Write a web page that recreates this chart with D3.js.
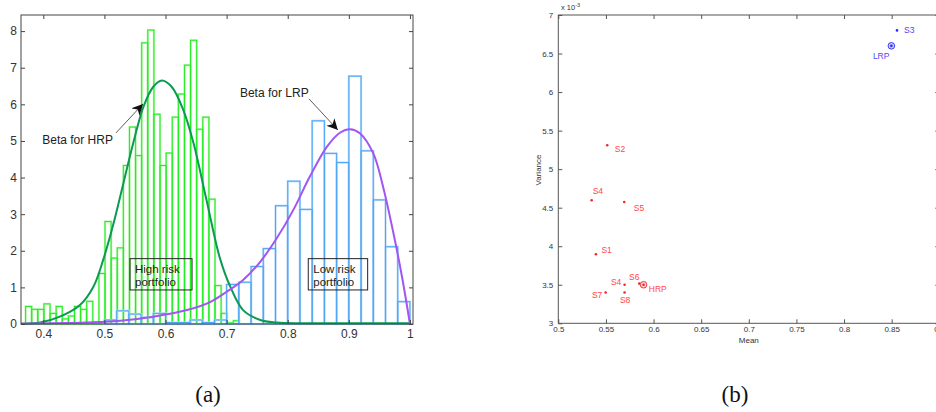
<!DOCTYPE html>
<html>
<head>
<meta charset="utf-8">
<script src="https://cdn.jsdelivr.net/npm/d3@7"></script>
<style>
  body { margin: 0; background: #fff; }
  svg { display: block; font-family: "Liberation Sans", Arial, sans-serif; }
</style>
</head>
<body>
<svg id="chart" width="936" height="412"></svg>
<script>
// ---- (a) histograms of the portfolio betas ----
const greenEdges = [0.371, 0.381, 0.391, 0.401, 0.411, 0.421, 0.431, 0.441, 0.451, 0.461,
  0.471, 0.481, 0.491, 0.501, 0.511, 0.521, 0.531, 0.541, 0.551, 0.561,
  0.571, 0.581, 0.591, 0.601, 0.611, 0.621, 0.631, 0.641, 0.651, 0.661,
  0.671, 0.681, 0.691, 0.701, 0.711, 0.721];
const greenCounts = [0.48, 0.40, 0.40, 0.55, 0.29, 0.48, 0.14, 0.22, 0.48, 0.40,
  0.62, 0.05, 1.38, 2.80, 1.80, 2.08, 4.33, 5.38, 4.60, 7.68,
  8.03, 5.73, 4.33, 4.67, 5.65, 6.28, 7.07, 7.75, 5.32, 5.65,
  3.41, 1.05, 0.29, 0.03, 0.09];

const blueEdges = [0.50, 0.52, 0.54, 0.56, 0.58, 0.60, 0.62, 0.64, 0.66, 0.68,
  0.70, 0.72, 0.74, 0.76, 0.78, 0.80, 0.82, 0.84, 0.86, 0.88,
  0.90, 0.92, 0.94, 0.96, 0.98, 1.00];
const blueCounts = [0.11, 0.36, 0.27, 0.18, 0.29, 0.04, 0.04, 0.11, 0.04, 0.11,
  1.08, 1.14, 1.57, 2.06, 3.23, 3.90, 3.13, 5.55, 4.66, 4.41,
  6.77, 4.73, 3.39, 2.11, 0.61];

// fitted beta curves
const hrpX = [0.3635, 0.395, 0.427, 0.46, 0.482, 0.498, 0.515, 0.531, 0.547, 0.564,
  0.58, 0.594, 0.61, 0.629, 0.646, 0.667, 0.689, 0.706, 0.727, 0.755,
  0.782, 0.82, 0.9, 1.0];
const hrpY = [0.01, 0.04, 0.2, 0.52, 1.02, 1.75, 2.75, 3.84, 4.93, 5.94,
  6.48, 6.65, 6.48, 5.85, 4.93, 3.39, 1.8, 1.02, 0.38, 0.11,
  0.04, 0.02, 0.02, 0.02];
const lrpX = [0.3635, 0.47, 0.526, 0.58, 0.635, 0.673, 0.70, 0.727, 0.755, 0.782,
  0.809, 0.836, 0.864, 0.886, 0.902, 0.918, 0.94, 0.956, 0.973, 0.987, 1.0];
const lrpY = [0.01, 0.04, 0.09, 0.2, 0.38, 0.6, 0.88, 1.2, 1.7, 2.34,
  3.11, 4.02, 4.84, 5.23, 5.32, 5.21, 4.66, 3.75, 2.48, 1.29, 0.0];

const histXTicks = [0.4, 0.5, 0.6, 0.7, 0.8, 0.9, 1];
const histYTicks = [0, 1, 2, 3, 4, 5, 6, 7, 8];

// ---- (b) mean / variance scatter ----
const strategyNames = ["S3", "LRP", "S2", "S4", "S5", "S1", "S4", "S6", "HRP", "S7", "S8"];
const strategyMean = [0.8556, 0.8497, 0.5514, 0.535, 0.5692, 0.5395, 0.5696, 0.585, 0.5895, 0.5497, 0.5696];
const strategyVar = [6.80, 6.60, 5.31, 4.596, 4.574, 3.895, 3.50, 3.515, 3.50, 3.40, 3.40];
const strategyGroup = ["low", "low", "high", "high", "high", "high", "high", "high", "high", "high", "high"];
const portfolioNames = ["LRP", "HRP"];

const scatterXTicks = [0.5, 0.55, 0.6, 0.65, 0.7, 0.75, 0.8, 0.85, 0.9];
const scatterYTicks = [3, 3.5, 4, 4.5, 5, 5.5, 6, 6.5, 7];

const svg = d3.select("#chart");

// frame with inward ticks on all four sides, MATLAB style
function drawFrame(g, x, y, xTicks, yTicks, opt) {
  const [x0, x1] = x.range();
  const [y0, y1] = y.range();
  const fmt = d => String(+d.toFixed(2));

  const bottom = g.append("g").attr("transform", `translate(0,${y0})`)
    .call(d3.axisBottom(x).tickValues(xTicks).tickSize(-opt.tick).tickPadding(opt.padX).tickFormat(fmt));
  const left = g.append("g").attr("transform", `translate(${x0},0)`)
    .call(d3.axisLeft(y).tickValues(yTicks).tickSize(-opt.tick).tickPadding(opt.padY).tickFormat(fmt));
  g.append("g").attr("transform", `translate(0,${y1})`)
    .call(d3.axisTop(x).tickValues(xTicks).tickSize(-opt.tick).tickFormat(""));
  g.append("g").attr("transform", `translate(${x1},0)`)
    .call(d3.axisRight(y).tickValues(yTicks).tickSize(-opt.tick).tickFormat(""));

  g.selectAll(".domain").remove();
  g.selectAll(".tick line").attr("stroke", opt.color);
  [bottom, left].forEach(a => a.selectAll("text")
    .attr("font-size", opt.font).attr("fill", opt.textColor)
    .attr("font-family", "'Liberation Sans', Arial, sans-serif"));

  g.append("rect")
    .attr("x", x0).attr("y", y1)
    .attr("width", x1 - x0).attr("height", y0 - y1)
    .attr("fill", "none").attr("stroke", opt.color).attr("stroke-width", 1);
}

// ================= panel (a) =================
const xA = d3.scaleLinear().domain([0.3635, 1.005]).range([21, 413]);
const yA = d3.scaleLinear().domain([0, 8.44]).range([324, 15]);

const gA = svg.append("g");
const plotA = gA.append("g");

function drawBars(edges, counts, color, light) {
  const bars = counts.map((c, i) => ({ x0: edges[i], x1: edges[i + 1], h: c }));
  // pale halo first, then the crisp outline
  [[light, 2.2], [color, 1]].forEach(([stroke, w]) => {
    plotA.append("g").selectAll("rect")
      .data(bars)
      .enter()
      .append("rect")
      .attr("x", d => xA(d.x0))
      .attr("y", d => yA(d.h))
      .attr("width", d => xA(d.x1) - xA(d.x0))
      .attr("height", d => yA(0) - yA(d.h))
      .attr("fill", "none")
      .attr("stroke", stroke)
      .attr("stroke-width", w);
  });
}

drawBars(greenEdges, greenCounts, "#22ee22", "#b8f8b0");
drawBars(blueEdges, blueCounts, "#4ea6f4", "#bcdcfa");

const curve = d3.line()
  .x(d => xA(d[0]))
  .y(d => yA(d[1]))
  .curve(d3.curveCatmullRom.alpha(0.5));

plotA.append("path")
  .attr("d", curve(hrpX.map((v, i) => [v, hrpY[i]])))
  .attr("fill", "none").attr("stroke", "#0c9a52").attr("stroke-width", 2);
plotA.append("path")
  .attr("d", curve(lrpX.map((v, i) => [v, lrpY[i]])))
  .attr("fill", "none").attr("stroke", "#a155f2").attr("stroke-width", 2);

drawFrame(gA, xA, yA, histXTicks, histYTicks,
  { tick: 4, padX: 5, padY: 4, font: 12, color: "#444", textColor: "#333" });

// arrows
svg.append("defs").append("marker")
  .attr("id", "head")
  .attr("viewBox", "0 0 10 10")
  .attr("refX", 10).attr("refY", 5)
  .attr("markerWidth", 11).attr("markerHeight", 11)
  .attr("markerUnits", "userSpaceOnUse")
  .attr("orient", "auto")
  .append("path")
  .attr("d", "M0,0 L10,5 L0,10 L3,5 Z")
  .attr("fill", "#111");

const notes = [
  { text: "Beta for HRP", tx: 0.514, ty: 4.92, anchor: "end", from: [0.519, 5.22], to: [0.5631, 6.01] },
  { text: "Beta for LRP", tx: 0.7218, ty: 6.2, anchor: "start", from: [0.8348, 6.15], to: [0.882, 5.30] }
];
notes.forEach(n => {
  gA.append("text")
    .attr("x", xA(n.tx)).attr("y", yA(n.ty))
    .attr("text-anchor", n.anchor)
    .attr("font-size", 12).attr("fill", "#222")
    .text(n.text);
  gA.append("line")
    .attr("x1", xA(n.from[0])).attr("y1", yA(n.from[1]))
    .attr("x2", xA(n.to[0])).attr("y2", yA(n.to[1]))
    .attr("stroke", "#333").attr("stroke-width", 0.8)
    .attr("marker-end", "url(#head)");
});

const boxes = [
  { lines: ["High risk", "portfolio"], x0: 0.5419, x1: 0.6434 },
  { lines: ["Low risk", "portfolio"], x0: 0.8336, x1: 0.9308 }
];
boxes.forEach(b => {
  gA.append("rect")
    .attr("x", xA(b.x0)).attr("y", yA(1.785))
    .attr("width", xA(b.x1) - xA(b.x0)).attr("height", yA(0.93) - yA(1.785))
    .attr("fill", "none").attr("stroke", "#222").attr("stroke-width", 1);
  b.lines.forEach((l, i) => {
    gA.append("text")
      .attr("x", xA(b.x0) + 5).attr("y", yA(1.785) + 14 + i * 13)
      .attr("font-size", 11.5).attr("fill", "#222")
      .text(l);
  });
});

// ================= panel (b) =================
const xB = d3.scaleLinear().domain([0.5, 0.9]).range([558.3, 939.3]);
const yB = d3.scaleLinear().domain([3, 7]).range([323.3, 15]);
const gB = svg.append("g");

drawFrame(gB, xB, yB, scatterXTicks, scatterYTicks,
  { tick: 4, padX: 3.5, padY: 5, font: 8, color: "#555", textColor: "#333" });

gB.append("text")
  .attr("x", 561).attr("y", 10)
  .attr("font-size", 7.5).attr("fill", "#333")
  .text("x 10")
  .append("tspan")
  .attr("dy", -3.5).attr("font-size", 5.5)
  .text("-3");

gB.append("text")
  .attr("x", xB(0.7)).attr("y", 343)
  .attr("text-anchor", "middle")
  .attr("font-size", 8).attr("fill", "#333")
  .text("Mean");
gB.append("text")
  .attr("transform", "translate(541,170) rotate(-90)")
  .attr("text-anchor", "middle")
  .attr("font-size", 8).attr("fill", "#333")
  .text("Variance");

const groupColor = { low: "#2c2cf6", high: "#f02828" };
const labelColor = { low: "#4a4af8", high: "#ff4848" };
// label offsets (px) from each point, same order as strategyNames
const labelOffset = [[7, 3], [-18.5, 13], [7.5, 6.5], [1, -6], [9.5, 9], [5.5, -1.8],
  [-13.7, 0.3], [-10.3, -4], [5.3, 7], [-13.7, 5.6], [-4.7, 10.6]];

const pts = strategyNames.map((n, i) => ({
  name: n, mean: strategyMean[i], v: strategyVar[i], group: strategyGroup[i],
  off: labelOffset[i], portfolio: portfolioNames.includes(n)
}));

const pg = gB.append("g").selectAll("g").data(pts).enter().append("g")
  .attr("transform", d => `translate(${xB(d.mean)},${yB(d.v)})`);

pg.filter(d => d.portfolio).append("circle")
  .attr("r", 3.3)
  .attr("fill", d => d.group === "low" ? "#c8c8ff" : "#ffd0d0")
  .attr("stroke", d => groupColor[d.group]).attr("stroke-width", 0.9);
pg.append("circle")
  .attr("r", 1.3)
  .attr("fill", d => groupColor[d.group]);
pg.append("text")
  .attr("x", d => d.off[0]).attr("y", d => d.off[1])
  .attr("font-size", 8.5)
  .attr("fill", d => labelColor[d.group])
  .text(d => d.name);

// ---- captions ----
[["(a)", 208], ["(b)", 735]].forEach(([t, x]) => {
  svg.append("text")
    .attr("x", x).attr("y", 402)
    .attr("text-anchor", "middle")
    .attr("font-family", "'Liberation Serif', 'DejaVu Serif', serif")
    .attr("font-size", 23).attr("fill", "#111")
    .text(t);
});
</script>
</body>
</html>
